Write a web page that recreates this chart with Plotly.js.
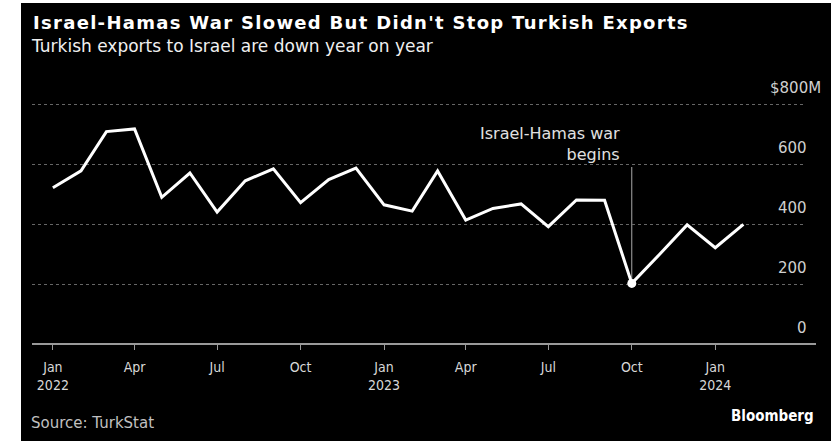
<!DOCTYPE html>
<html>
<head>
<meta charset="utf-8">
<script src="https://cdn.plot.ly/plotly-3.0.1.min.js"></script>
<style>
  html, body { margin: 0; padding: 0; background: #ffffff; width: 840px; height: 441px; overflow: hidden; }
  #chart { position: absolute; left: 21px; top: 3px; width: 810px; height: 438px; }
  #chart .gtitle { letter-spacing: 1.3px; }
</style>
</head>
<body>
<div id="chart"></div>
<script>
// ---- data ----
const months = [
  '2022-01-01','2022-02-01','2022-03-01','2022-04-01','2022-05-01','2022-06-01',
  '2022-07-01','2022-08-01','2022-09-01','2022-10-01','2022-11-01','2022-12-01',
  '2023-01-01','2023-02-01','2023-03-01','2023-04-01','2023-05-01','2023-06-01',
  '2023-07-01','2023-08-01','2023-09-01','2023-10-01','2023-11-01','2023-12-01',
  '2024-01-01','2024-02-01'
];
const exportsUSDm = [
  521, 577, 708, 717, 489, 570,
  440, 544, 584, 471, 548, 586,
  464, 443, 577, 413, 452, 467,
  391, 480, 479, 202, 300, 397,
  321, 399
];
const xTickVals = ['2022-01-01','2022-04-01','2022-07-01','2022-10-01','2023-01-01','2023-04-01','2023-07-01','2023-10-01','2024-01-01'];
const xTickText = ['Jan<br>2022','Apr','Jul','Oct','Jan<br>2023','Apr','Jul','Oct','Jan<br>2024'];
const yTickVals = [0, 200, 400, 600, 800];
const yTickText = ['0', '200', '400', '600', '$800M'];
const eventDate = '2023-10-01';
const eventLabel = 'Israel-Hamas war<br>begins';
const eventLineTop = 590;
const titleText = "Israel-Hamas War Slowed But Didn't Stop Turkish Exports";
const subtitleText = 'Turkish exports to Israel are down year on year';
const sourceText = 'Source: TurkStat';
const brandText = 'Bloomberg';

// ---- build ----
const eventIdx = months.indexOf(eventDate);
const W = 810, H = 438;
const L = 11, R = 25, T = 98, B = 97;
const plotW = W - L - R;
const plotH = H - T - B;

const sans = '"DejaVu Sans", Verdana, sans-serif';
const narrow = '"DejaVu Sans Condensed", "Liberation Sans Narrow", "Roboto Condensed", sans-serif';

const traces = [
  {
    type: 'scatter', mode: 'lines', x: months, y: exportsUSDm,
    line: { color: '#ffffff', width: 3 }, hoverinfo: 'skip'
  },
  {
    type: 'scatter', mode: 'markers', x: [months[eventIdx]], y: [exportsUSDm[eventIdx]],
    marker: { color: '#ffffff', size: 9 }, hoverinfo: 'skip'
  }
];

const annotations = [];
yTickVals.forEach((v, i) => {
  const t = yTickText[i];
  annotations.push({
    xref: 'paper', yref: 'y', x: 1, y: v,
    xanchor: 'right', yanchor: 'middle',
    xshift: 3 + (t.endsWith('M') ? 14 : 0), yshift: 16,
    text: t, showarrow: false,
    font: { family: sans, size: 15, color: '#d0d0d0' }
  });
});
annotations.push({
  xref: 'x', yref: 'y', x: months[eventIdx], y: eventLineTop,
  xanchor: 'right', yanchor: 'bottom', align: 'right',
  xshift: -10, yshift: 1,
  text: eventLabel, showarrow: false,
  font: { family: sans, size: 16, color: '#e0e0e0' }
});
annotations.push({
  xref: 'paper', yref: 'paper', x: -3 / plotW, y: 1 + (T - 42.5) / plotH,
  xanchor: 'left', yanchor: 'middle',
  text: subtitleText, showarrow: false,
  font: { family: sans, size: 17, color: '#f0f0f0' }
});
annotations.push({
  xref: 'paper', yref: 'paper', x: -3 / plotW, y: -(419.5 - (H - B)) / plotH,
  xanchor: 'left', yanchor: 'middle',
  text: sourceText, showarrow: false,
  font: { family: sans, size: 15, color: '#c0c0c0' }
});
annotations.push({
  xref: 'paper', yref: 'paper', x: (795 - L) / plotW, y: -(413 - (H - B)) / plotH,
  xanchor: 'right', yanchor: 'middle',
  text: '<b>' + brandText + '</b>', showarrow: false,
  font: { family: narrow, size: 15, color: '#ffffff' }
});

const layout = {
  width: W, height: H,
  paper_bgcolor: '#000000', plot_bgcolor: '#000000',
  margin: { l: L, r: R, t: T, b: B, pad: 0 },
  showlegend: false,
  hovermode: false,
  title: {
    text: '<b>' + titleText + '</b>',
    font: { family: sans, size: 18, color: '#ffffff' },
    xref: 'container', yref: 'container',
    x: 12 / W, xanchor: 'left',
    y: 1 - 19.5 / H, yanchor: 'middle'
  },
  xaxis: {
    type: 'date',
    range: ['2021-12-09', '2024-04-10'],
    tickvals: xTickVals, ticktext: xTickText,
    ticks: 'outside', ticklen: 5, tickwidth: 1, tickcolor: '#999999',
    ticklabelstandoff: 5,
    tickfont: { family: narrow, size: 14, color: '#d8d8d8' },
    showgrid: false, zeroline: false, showline: false,
    fixedrange: true
  },
  yaxis: {
    range: [0, 810],
    tickvals: yTickVals,
    showticklabels: false,
    showgrid: true, gridcolor: '#666666', gridwidth: 1, griddash: 'dot',
    zeroline: false, showline: false, ticks: '',
    fixedrange: true
  },
  shapes: [
    {
      type: 'line', xref: 'paper', yref: 'paper',
      x0: 0, x1: 1 + 10 / plotW, y0: 0, y1: 0,
      line: { color: '#999999', width: 2 }
    },
    {
      type: 'line', xref: 'x', yref: 'y',
      x0: months[eventIdx], x1: months[eventIdx],
      y0: exportsUSDm[eventIdx], y1: eventLineTop,
      line: { color: '#aaaaaa', width: 1 }, layer: 'below'
    }
  ],
  annotations: annotations
};

Plotly.newPlot('chart', traces, layout, { displayModeBar: false, staticPlot: true });
</script>
</body>
</html>
